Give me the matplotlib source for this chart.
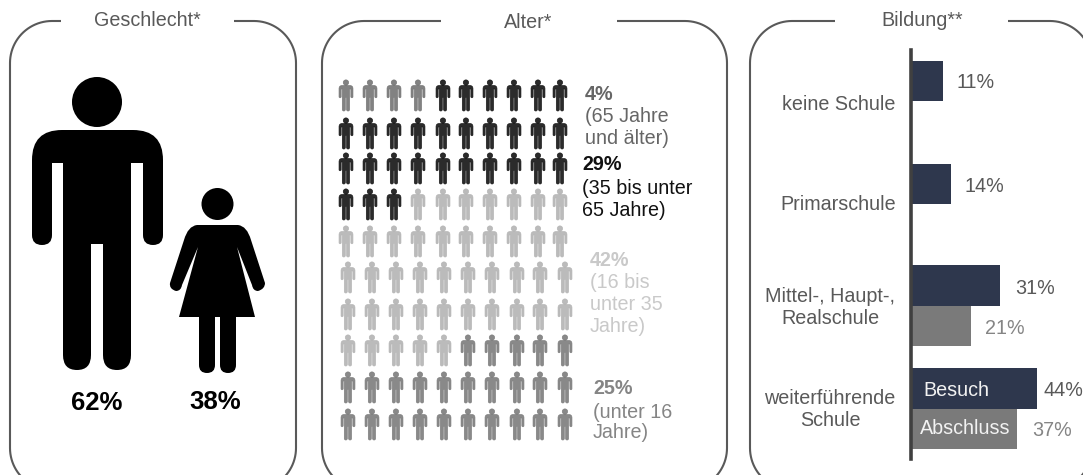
import numpy as np
import matplotlib
matplotlib.use("Agg")
import matplotlib.pyplot as plt
from matplotlib.path import Path
from matplotlib.patches import PathPatch
from matplotlib.transforms import Affine2D

plt.rcParams['font.family'] = ['Liberation Sans', 'DejaVu Sans']

gender_labels = ["62%", "38%"]

age_counts = [4, 29, 42, 25]
age_shares = ["4%", "29%", "42%", "25%"]
age_texts = [["(65 Jahre", "und älter)"],
             ["(35 bis unter", "65 Jahre)"],
             ["(16 bis", "unter 35", "Jahre)"],
             ["(unter 16", "Jahre)"]]
age_colors = ['#747474', '#141414', '#b4b4b4', '#7c7c7c']
age_text_colors = ['#666666', '#111111', '#c9c9c9', '#858585']

edu_categories = ["keine Schule", "Primarschule", "Mittel-, Haupt-,\nRealschule", "weiterführende\nSchule"]
edu_visit = [11, 14, 31, 44]
edu_degree = [21, 37]

TEXT = '#595959'
LINE = '#595959'
NAVY = '#2e374d'
GREY = '#7a7a7a'
FS = 14.2

M, L, Q = Path.MOVETO, Path.LINETO, Path.CURVE3


def outline(points):
    verts, codes = [], []
    for p in points:
        if len(p) == 2:
            verts.append(p)
            codes.append(L)
        else:
            verts += [(p[0], p[1]), (p[2], p[3])]
            codes += [Q, Q]
    codes[0] = M
    verts.append(verts[0])
    codes.append(Path.CLOSEPOLY)
    return Path(verts, codes)


def circle(cx, cy, r):
    return Path.circle((cx, cy), r)


man = Path.make_compound_path(
    circle(97, 102, 25),
    outline([(62, 130), (133, 130), (163, 130, 163, 160), (163, 235),
             (163, 245, 153, 245), (143, 245, 143, 235), (143, 163), (131, 163),
             (131, 355), (131, 370, 117, 370), (103, 370, 103, 355), (103, 244),
             (91, 244), (91, 355), (91, 370, 77, 370), (63, 370, 63, 355),
             (63, 163), (52, 163), (52, 235), (52, 245, 42, 245), (32, 245, 32, 235),
             (32, 160), (32, 130, 62, 130)]))

woman = Path.make_compound_path(
    circle(217.5, 204, 16),
    outline([(197, 225), (238, 225), (247, 226, 251, 240), (265, 283),
             (265, 289, 258, 291), (253, 291, 252, 285), (237, 247), (255, 317),
             (236, 317), (236, 365), (236, 373, 228, 373), (220, 373, 220, 365),
             (220, 317), (215, 317), (215, 365), (215, 373, 207, 373),
             (199, 373, 199, 365), (199, 317), (179, 317), (198, 247), (182, 285),
             (181, 291, 176, 291), (169, 289, 170, 283), (184, 240), (188, 226, 197, 225)]))


def corner(cx, cy, r, a0, a1):
    a = np.radians(np.linspace(a0, a1, 24))
    return np.column_stack([cx + r * np.cos(a), cy + r * np.sin(a)])


def panel(ax, x0, x1, gap0, gap1, top=21, bottom=490, r=42):
    # open rounded box, the gap at the top holds the title
    pts = np.vstack([
        [(gap0, top)],
        corner(x0 + r, top + r, r, 270, 180),
        corner(x0 + r, bottom - r, r, 180, 90),
        corner(x1 - r, bottom - r, r, 90, 0),
        corner(x1 - r, top + r, r, 0, -90),
        [(gap1, top)],
    ])
    ax.plot(pts[:, 0], pts[:, 1], color=LINE, lw=1.5, solid_capstyle='butt')


fig = plt.figure(figsize=(10.83, 4.75), dpi=100)
ax = fig.add_axes([0, 0, 1, 1])
ax.set_xlim(0, 1083)
ax.set_ylim(475, 0)
ax.axis('off')

panel(ax, 10, 296, 61, 234)
panel(ax, 322, 727, 441, 617)
panel(ax, 750, 1092, 835, 1008)

ax.text(147, 20, "Geschlecht*", fontsize=FS, color=TEXT, ha='center', va='center')
ax.text(528, 23, "Alter*", fontsize=FS, color=TEXT, ha='center', va='center')
ax.text(922, 20, "Bildung**", fontsize=FS, color=TEXT, ha='center', va='center')

# big figures
ax.add_patch(PathPatch(man, fc='black', ec='none'))
ax.add_patch(PathPatch(woman, fc='black', ec='none'))
ax.text(97, 403, gender_labels[0], fontsize=18.5, weight='bold', color='black', ha='center', va='center')
ax.text(215, 402, gender_labels[1], fontsize=18.5, weight='bold', color='black', ha='center', va='center')

# 100 little people, filled row by row
icon_colors = np.repeat(age_colors, age_counts)
row_tops = [80, 118, 153, 189, 226, 262, 299, 335, 372, 409]
col_upper = [346, 370, 394, 418, 443, 466, 490, 514, 538, 560]
col_lower = [348, 372, 396, 420, 444, 468, 492, 517, 540, 565]
scale = 31 / 292
for i, c in enumerate(icon_colors):
    row, col = divmod(i, 10)
    cols = col_upper if row < 5 else col_lower
    tr = Affine2D().translate(-97.5, -78).scale(scale).translate(cols[col], row_tops[row])
    ax.add_patch(PathPatch(man.transformed(tr), fc=c, ec=c, lw=0.5, alpha=0.9))

block_x = [585, 582, 590, 593]
block_y = [95, 165, 260, 389]
line_y = [[116, 138], [188, 210], [282, 304, 326], [412, 433]]
for share, lines, tc, x, y, ly in zip(age_shares, age_texts, age_text_colors, block_x, block_y, line_y):
    ax.text(x, y, share, fontsize=FS, weight='bold', color=tc, ha='left', va='center')
    for t, yy in zip(lines, ly):
        ax.text(x, yy, t, fontsize=FS, color=tc, ha='left', va='center')

# education bars
bx = fig.add_axes([911 / 1083, 1 - 459 / 475, 172 / 1083, 409 / 475])
bx.set_xlim(0, 172 / 2.87)
bx.set_ylim(459, 50)
bx.patch.set_alpha(0)
for s in ['top', 'right', 'bottom']:
    bx.spines[s].set_visible(False)
bx.spines['left'].set_color('#404040')
bx.spines['left'].set_linewidth(2.6)
bx.set_xticks([])
bx.set_yticks([])

visit_y = [81, 184, 285.5, 388.5]
degree_y = [326, 429]
bx.barh(visit_y, edu_visit, height=40.5, color=NAVY)
bx.barh(degree_y, edu_degree, height=40.5, color=GREY)

visit_lab_x = [957, 965, 1015, 1044]
visit_lab_y = [83, 186, 289, 390]
for v, x, y in zip(edu_visit, visit_lab_x, visit_lab_y):
    ax.text(x, y, f"{v}%", fontsize=FS, color=TEXT, ha='left', va='center')
degree_lab_x = [985, 1032]
degree_lab_y = [329, 431]
for v, x, y in zip(edu_degree, degree_lab_x, degree_lab_y):
    ax.text(x, y, f"{v}%", fontsize=FS, color='#858585', ha='left', va='center')

cat_x = [839, 838, 830, 830]
cat_y = [104, 205, 308, 410]
for c, x, y in zip(edu_categories, cat_x, cat_y):
    ax.text(x, y, c, fontsize=FS, color=TEXT, ha='center', va='center', linespacing=1.2)

ax.set_zorder(2)
ax.text(923, 391, "Besuch", fontsize=FS, color='#f2f2f2', ha='left', va='center')
ax.text(920, 428, "Abschluss", fontsize=FS, color='#f2f2f2', ha='left', va='center')

fig.savefig("out.png", dpi=100)
